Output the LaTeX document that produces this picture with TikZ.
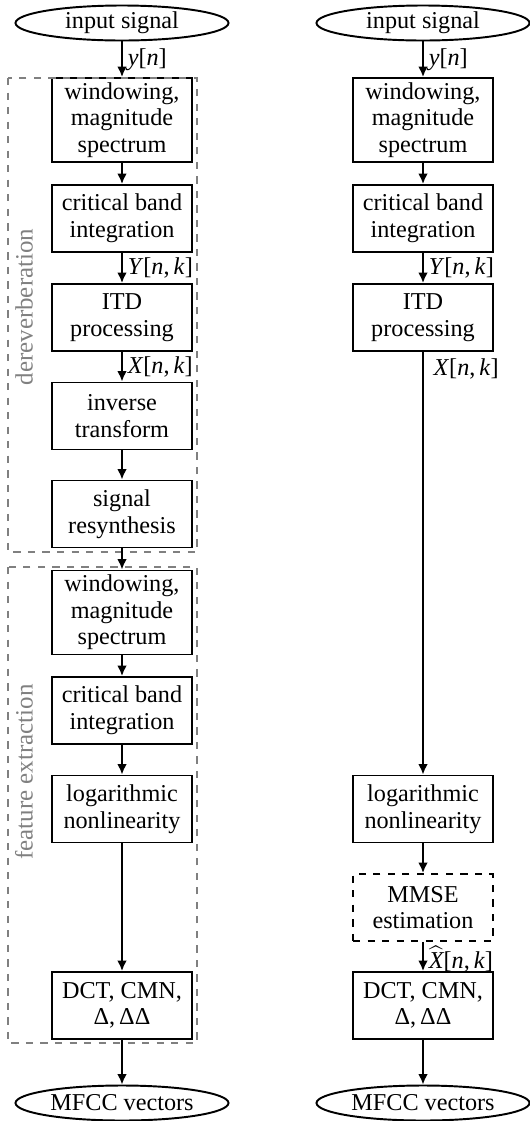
\documentclass[tikz,border=0pt]{standalone}
\usepackage{fontspec}
\setmainfont{Liberation Serif}
\usetikzlibrary{shapes.geometric,arrows.meta}
\newcommand\pxunit{0.413pt}
\begin{document}
\begin{tikzpicture}[x=0.413pt,y=-0.413pt,
  every node/.style={font=\fontsize{10}{11}\selectfont},
  blk/.style={draw, line width=0.8pt, minimum width=140*\pxunit, minimum height=67*\pxunit, align=center, inner sep=0pt},
  tall/.style={minimum height=84*\pxunit},
  est/.style={blk, dashed},
  ell/.style={draw, ellipse, line width=0.8pt, minimum width=213*\pxunit, minimum height=35*\pxunit, inner sep=0pt},
  arr/.style={-{Latex[length=4.3pt,width=4pt]}, line width=0.8pt},
  lbl/.style={right, inner sep=2pt},
  grp/.style={draw=black!50, dashed, line width=0.45pt},
  glbl/.style={text=black!50, rotate=90, inner sep=0pt, font=\fontsize{10.3}{12}\selectfont}]
\useasboundingbox (0,0) rectangle (529,1121);

% ---------- left column ----------
\node[ell] (inL) at (122,23) {input signal};
\node[blk,tall] (L1) at (122,120) {windowing,\\magnitude\\spectrum};
\node[blk] (L2) at (122,218.5) {critical band\\integration};
\node[blk] (L3) at (122,317.5) {ITD\\processing};
\node[blk] (L4) at (122,416) {inverse\\transform};
\node[blk] (L5) at (122,514) {signal\\resynthesis};
\node[blk,tall] (L6) at (122,612.5) {windowing,\\magnitude\\spectrum};
\node[blk] (L7) at (122,710.5) {critical band\\integration};
\node[blk] (L8) at (122,809) {logarithmic\\nonlinearity};
\node[blk] (L9) at (122,1005.5) {DCT, CMN,\\Δ,\,ΔΔ};
\node[ell] (outL) at (122,1103) {MFCC vectors};

\draw[grp] (8,78) rectangle (197,552);
\draw[grp] (8,567) rectangle (197,1043);
\node[glbl] (gD) at (24,307) {dereverberation};
\node[glbl] (gF) at (24,772) {feature extraction};

\draw[arr] (inL) -- node[lbl]{\textit{y}[\textit{n}]} (L1);
\draw[arr] (L1) -- (L2);
\draw[arr] (L2) -- node[lbl]{\textit{Y}[\textit{n},\,\textit{k}]} (L3);
\draw[arr] (L3) -- node[lbl]{\textit{X}[\textit{n},\,\textit{k}]} (L4);
\draw[arr] (L4) -- (L5);
\draw[arr] (L5) -- (L6);
\draw[arr] (L6) -- (L7);
\draw[arr] (L7) -- (L8);
\draw[arr] (L8) -- (L9);
\draw[arr] (L9) -- (outL);

% ---------- right column ----------
\node[ell] (inR) at (423,23) {input signal};
\node[blk,tall] (R1) at (423,120) {windowing,\\magnitude\\spectrum};
\node[blk] (R2) at (423,218.5) {critical band\\integration};
\node[blk] (R3) at (423,317.5) {ITD\\processing};
\node[blk] (R4) at (423,809) {logarithmic\\nonlinearity};
\node[est] (R5) at (423,907.5) {MMSE\\estimation};
\node[blk] (R6) at (423,1005.5) {DCT, CMN,\\Δ,\,ΔΔ};
\node[ell] (outR) at (423,1103) {MFCC vectors};

\draw[arr] (inR) -- node[lbl]{\textit{y}[\textit{n}]} (R1);
\draw[arr] (R1) -- (R2);
\draw[arr] (R2) -- node[lbl]{\textit{Y}[\textit{n},\,\textit{k}]} (R3);
\draw[arr] (R3) -- node[lbl, pos=0.04, xshift=2pt]{\textit{X}[\textit{n},\,\textit{k}]} (R4);
\draw[arr] (R4) -- (R5);
\draw[arr] (R5) -- node[lbl, inner sep=0.3pt, xshift=1.7pt, yshift=-1pt]{$\widehat{\mbox{\itshape X}}$[\textit{n},\,\textit{k}]} (R6);
\draw[arr] (R6) -- (outR);
\end{tikzpicture}
\end{document}
